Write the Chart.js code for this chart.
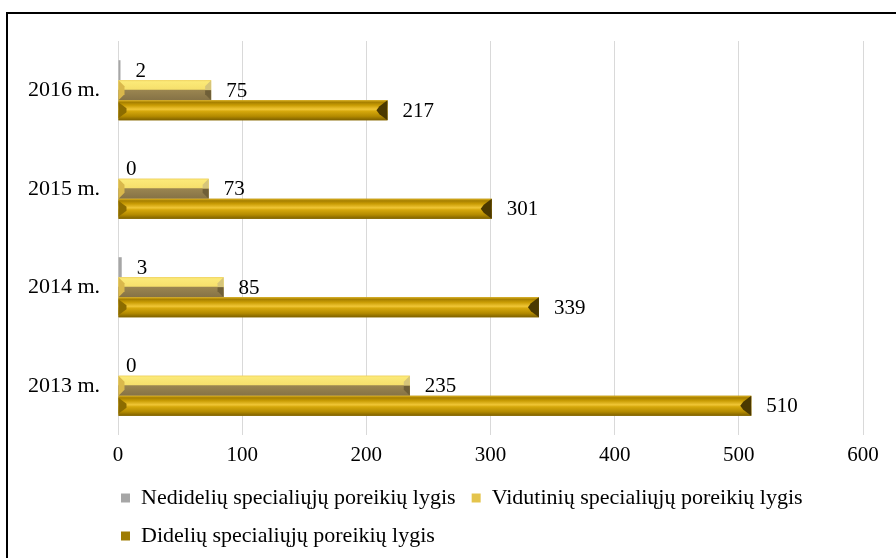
<!DOCTYPE html>
<html>
<head>
<meta charset="utf-8">
<script src="https://cdn.jsdelivr.net/npm/chart.js@4"></script>
<style>
  html, body { margin: 0; padding: 0; background: #fff; overflow: hidden; }
  #wrap { position: relative; width: 896px; height: 558px; overflow: hidden; }
  #chart { position: absolute; left: 0; top: 0; }
  #frame { position: absolute; left: 6px; top: 12px; width: 1000px; height: 1000px;
           border: 2px solid #000; box-sizing: border-box; pointer-events: none; }
</style>
</head>
<body>
<div id="wrap">
  <canvas id="chart" width="896" height="557"></canvas>
  <div id="frame"></div>
</div>
<script>
/* ---------------------------------------------------
   data
----------------------------------------------------- */
var years = ['2016 m.', '2015 m.', '2014 m.', '2013 m.'];
var nedideliu = [2, 0, 3, 0];
var vidutiniu = [75, 73, 85, 235];
var dideliu = [217, 301, 339, 510];
var xTicks = [0, 100, 200, 300, 400, 500, 600];

var serif = '"Liberation Serif", "Times New Roman", serif';

/* ---------------------------------------------------
   bevel look of the bars (drawn over the plain bars)
----------------------------------------------------- */
function poly(ctx, pts, color)
{
	ctx.beginPath();
	ctx.moveTo(pts[0][0], pts[0][1]);
	for (var i = 1; i < pts.length; i++) ctx.lineTo(pts[i][0], pts[i][1]);
	ctx.closePath();
	ctx.fillStyle = color;
	ctx.fill();
}

function drawYellow(ctx, l, r, t, b)
{
	var h = b - t, m = t + h / 2;
	var e = Math.min(6, (r - l) / 3);
	var g = ctx.createLinearGradient(0, t, 0, b);
	g.addColorStop(0, '#f3d862');
	g.addColorStop(0.08, '#fbe978');
	g.addColorStop(0.45, '#f6e06c');
	g.addColorStop(0.5, '#9a8550');
	g.addColorStop(1, '#857246');
	ctx.fillStyle = g;
	ctx.fillRect(l, t, r - l, h);
	poly(ctx, [[l, t], [l + e, t + e], [l + e, b - e], [l, b]], '#d9b84c');
	poly(ctx, [[r, t], [r - e, t + e], [r - e, m], [r, m]], '#d6c57a');
	poly(ctx, [[r, m], [r - e, m], [r - e, b - e], [r, b]], '#6f5f38');
}

function drawGold(ctx, l, r, t, b)
{
	var h = b - t, m = t + h / 2;
	var e = Math.min(8, (r - l) / 3);
	var g = ctx.createLinearGradient(0, t, 0, b);
	g.addColorStop(0, '#e0b420');
	g.addColorStop(0.1, '#a67f00');
	g.addColorStop(0.25, '#c99c04');
	g.addColorStop(0.45, '#f0c636');
	g.addColorStop(0.55, '#d6a80c');
	g.addColorStop(0.8, '#b38a00');
	g.addColorStop(1, '#7d6000');
	ctx.fillStyle = g;
	ctx.fillRect(l, t, r - l, h);
	poly(ctx, [[l, t + 2], [l + e, t + e], [l + e, b - e], [l, b - 2]], '#8c6c00');
	poly(ctx, [[r, t], [r - e, t + e - 2], [r - e - 3, m], [r - e, b - e + 2], [r, b]], '#4b3900');
}

var bevelPlugin = {
	id: 'bevel',
	afterDatasetsDraw: function (chart) {
		var ctx = chart.ctx;
		ctx.save();
		chart.data.datasets.forEach(function (ds, i) {
			var meta = chart.getDatasetMeta(i);
			if (meta.hidden || !ds.bevel) return;
			meta.data.forEach(function (bar) {
				var p = bar.getProps(['x', 'y', 'base', 'height'], true);
				var l = Math.min(p.x, p.base), r = Math.max(p.x, p.base);
				var t = p.y - p.height / 2, b = p.y + p.height / 2;
				if (r - l < 1) return;
				if (ds.bevel === 'yellow') drawYellow(ctx, l, r, t, b);
				else drawGold(ctx, l, r, t, b);
			});
		});
		ctx.restore();
	}
};

/* ---------------------------------------------------
   value labels right of the bars
----------------------------------------------------- */
var valueLabels = {
	id: 'valueLabels',
	afterDatasetsDraw: function (chart) {
		var ctx = chart.ctx;
		ctx.save();
		ctx.font = '21px ' + serif;
		ctx.fillStyle = '#000';
		ctx.textAlign = 'left';
		ctx.textBaseline = 'middle';
		chart.data.datasets.forEach(function (ds, i) {
			chart.getDatasetMeta(i).data.forEach(function (bar, j) {
				var v = ds.data[j];
				var off = v === 0 ? 8 : 15;
				ctx.fillText(String(v), bar.x + off, bar.y + 1);
			});
		});
		ctx.restore();
	}
};

// legend rows start at the left like in the original, not at the canvas edge
var legendShift = {
	id: 'legendShift',
	afterLayout: function (chart) {
		chart.legend.left = 105;
		chart.legend.right = 900;
	}
};

/* ---------------------------------------------------
   chart
----------------------------------------------------- */
var ctxB = document.getElementById('chart').getContext('2d');
var myChart = new Chart(ctxB, {
	type: 'bar',
	data: {
		labels: years,
		datasets: [{
			label: 'Nedidelių specialiųjų poreikių lygis',
			data: nedideliu,
			backgroundColor: '#a6a6a6',
			borderWidth: 0
		}, {
			label: 'Vidutinių specialiųjų poreikių lygis',
			data: vidutiniu,
			backgroundColor: '#e4c44c',
			borderWidth: 0,
			bevel: 'yellow'
		}, {
			label: 'Didelių specialiųjų poreikių lygis',
			data: dideliu,
			backgroundColor: '#9e7c04',
			borderWidth: 0,
			bevel: 'gold'
		}]
	},
	options: {
		indexAxis: 'y',
		responsive: false,
		animation: false,
		categoryPercentage: 0.61,
		barPercentage: 1.0,
		layout: { padding: { top: 41, right: 33, bottom: 0, left: 0 } },
		scales: {
			x: {
				min: xTicks[0],
				max: xTicks[xTicks.length - 1],
				ticks: { stepSize: 100, padding: 8, color: '#000', font: { family: serif, size: 21 } },
				grid: { color: '#d9d9d9', lineWidth: 1, drawTicks: false },
				border: { display: false },
				afterFit: function (s) { s.height = 36; }
			},
			y: {
				ticks: { padding: 18, color: '#000', font: { family: serif, size: 22 } },
				grid: { display: false, drawTicks: false },
				border: { display: false },
				afterFit: function (s) { s.width = 118; }
			}
		},
		plugins: {
			legend: {
				position: 'bottom',
				align: 'start',
				labels: {
					boxWidth: 9,
					boxHeight: 9,
					padding: 16,
					color: '#000',
					font: { family: serif, size: 22 }
				}
			},
			tooltip: { enabled: false }
		}
	},
	plugins: [bevelPlugin, valueLabels, legendShift]
});
</script>
</body>
</html>
